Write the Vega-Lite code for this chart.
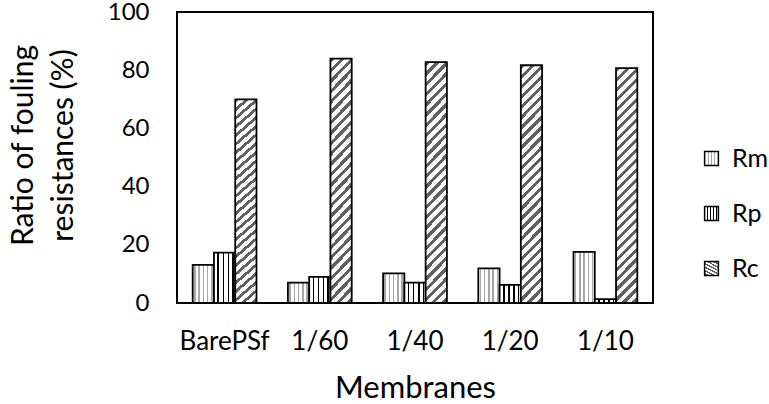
{
  "$schema": "https://vega.github.io/schema/vega-lite/v6.json",
  "width": 476,
  "height": 291,
  "autosize": {"type": "none"},
  "padding": {"left": 177, "top": 12, "right": 116, "bottom": 101},
  "background": "white",
  "config": {
    "font": "Lato",
    "view": {"stroke": "black", "strokeWidth": 2}
  },
  "data": {
    "values": [
      {"membrane": "BarePSf", "type": "Rm", "value": 13.1},
      {"membrane": "BarePSf", "type": "Rp", "value": 17.3},
      {"membrane": "BarePSf", "type": "Rc", "value": 70.0},
      {"membrane": "1/60", "type": "Rm", "value": 7.0},
      {"membrane": "1/60", "type": "Rp", "value": 9.0},
      {"membrane": "1/60", "type": "Rc", "value": 84.0},
      {"membrane": "1/40", "type": "Rm", "value": 10.2},
      {"membrane": "1/40", "type": "Rp", "value": 7.0},
      {"membrane": "1/40", "type": "Rc", "value": 82.8},
      {"membrane": "1/20", "type": "Rm", "value": 11.9},
      {"membrane": "1/20", "type": "Rp", "value": 6.2},
      {"membrane": "1/20", "type": "Rc", "value": 81.7},
      {"membrane": "1/10", "type": "Rm", "value": 17.6},
      {"membrane": "1/10", "type": "Rp", "value": 1.3},
      {"membrane": "1/10", "type": "Rc", "value": 80.7}
    ]
  },
  "mark": {"type": "bar", "stroke": "black", "strokeWidth": 1.8},
  "encoding": {
    "x": {
      "field": "membrane",
      "type": "nominal",
      "sort": ["BarePSf", "1/60", "1/40", "1/20", "1/10"],
      "scale": {"paddingInner": 0.33, "paddingOuter": 0.165},
      "axis": {
        "title": "Membranes",
        "labelAngle": 0,
        "ticks": false,
        "domain": false,
        "labelFontSize": 26,
        "labelColor": "black",
        "labelPadding": 25,
        "titleFontSize": 31,
        "titleFontWeight": "normal",
        "titleColor": "black",
        "titlePadding": 19
      }
    },
    "xOffset": {
      "field": "type",
      "sort": ["Rm", "Rp", "Rc"],
      "scale": {"paddingInner": 0, "paddingOuter": 0}
    },
    "y": {
      "field": "value",
      "type": "quantitative",
      "scale": {"domain": [0, 100]},
      "axis": {
        "values": [0, 20, 40, 60, 80, 100],
        "grid": false,
        "ticks": false,
        "domain": false,
        "labelFontSize": 24,
        "labelColor": "black",
        "labelPadding": 28,
        "title": ["Ratio of fouling", "resistances (%)"],
        "titleFontSize": 30,
        "titleFontWeight": "normal",
        "titleColor": "black",
        "titleLineHeight": 40,
        "titlePadding": 29,
        "titleY": 133
      }
    },
    "fill": {
      "field": "type",
      "type": "nominal",
      "scale": {
        "domain": ["Rm", "Rp", "Rc"],
        "range": [
          {"expr": "{gradient:'linear',x1:0,y1:0,x2:1,y2:0,stops:[{offset:0,color:'#fff'},{offset:0.065,color:'#fff'},{offset:0.065,color:'#a8a8a8'},{offset:0.135,color:'#a8a8a8'},{offset:0.135,color:'#fff'},{offset:0.265,color:'#fff'},{offset:0.265,color:'#a8a8a8'},{offset:0.335,color:'#a8a8a8'},{offset:0.335,color:'#fff'},{offset:0.465,color:'#fff'},{offset:0.465,color:'#a8a8a8'},{offset:0.535,color:'#a8a8a8'},{offset:0.535,color:'#fff'},{offset:0.665,color:'#fff'},{offset:0.665,color:'#a8a8a8'},{offset:0.735,color:'#a8a8a8'},{offset:0.735,color:'#fff'},{offset:0.865,color:'#fff'},{offset:0.865,color:'#a8a8a8'},{offset:0.935,color:'#a8a8a8'},{offset:0.935,color:'#fff'},{offset:1,color:'#fff'}]}"},
          {"expr": "{gradient:'linear',x1:0,y1:0,x2:1,y2:0,stops:[{offset:0,color:'#fff'},{offset:0.165,color:'#fff'},{offset:0.165,color:'#000'},{offset:0.235,color:'#000'},{offset:0.235,color:'#fff'},{offset:0.405,color:'#fff'},{offset:0.405,color:'#000'},{offset:0.475,color:'#000'},{offset:0.475,color:'#fff'},{offset:0.645,color:'#fff'},{offset:0.645,color:'#000'},{offset:0.715,color:'#000'},{offset:0.715,color:'#fff'},{offset:0.855,color:'#fff'},{offset:0.855,color:'#000'},{offset:0.925,color:'#000'},{offset:0.925,color:'#fff'},{offset:1,color:'#fff'}]}"},
          {"expr": "{gradient:'linear',x1:0,y1:0,x2:0.098,y2:1.082,stops:[{offset:0,color:'#606060'},{offset:0.017,color:'#606060'},{offset:0.017,color:'#fff'},{offset:0.039,color:'#fff'},{offset:0.039,color:'#606060'},{offset:0.056,color:'#606060'},{offset:0.056,color:'#fff'},{offset:0.078,color:'#fff'},{offset:0.078,color:'#606060'},{offset:0.095,color:'#606060'},{offset:0.095,color:'#fff'},{offset:0.117,color:'#fff'},{offset:0.117,color:'#606060'},{offset:0.134,color:'#606060'},{offset:0.134,color:'#fff'},{offset:0.156,color:'#fff'},{offset:0.156,color:'#606060'},{offset:0.173,color:'#606060'},{offset:0.173,color:'#fff'},{offset:0.195,color:'#fff'},{offset:0.195,color:'#606060'},{offset:0.212,color:'#606060'},{offset:0.212,color:'#fff'},{offset:0.234,color:'#fff'},{offset:0.234,color:'#606060'},{offset:0.251,color:'#606060'},{offset:0.251,color:'#fff'},{offset:0.273,color:'#fff'},{offset:0.273,color:'#606060'},{offset:0.29,color:'#606060'},{offset:0.29,color:'#fff'},{offset:0.312,color:'#fff'},{offset:0.312,color:'#606060'},{offset:0.329,color:'#606060'},{offset:0.329,color:'#fff'},{offset:0.351,color:'#fff'},{offset:0.351,color:'#606060'},{offset:0.368,color:'#606060'},{offset:0.368,color:'#fff'},{offset:0.39,color:'#fff'},{offset:0.39,color:'#606060'},{offset:0.407,color:'#606060'},{offset:0.407,color:'#fff'},{offset:0.429,color:'#fff'},{offset:0.429,color:'#606060'},{offset:0.446,color:'#606060'},{offset:0.446,color:'#fff'},{offset:0.468,color:'#fff'},{offset:0.468,color:'#606060'},{offset:0.485,color:'#606060'},{offset:0.485,color:'#fff'},{offset:0.507,color:'#fff'},{offset:0.507,color:'#606060'},{offset:0.524,color:'#606060'},{offset:0.524,color:'#fff'},{offset:0.546,color:'#fff'},{offset:0.546,color:'#606060'},{offset:0.563,color:'#606060'},{offset:0.563,color:'#fff'},{offset:0.585,color:'#fff'},{offset:0.585,color:'#606060'},{offset:0.602,color:'#606060'},{offset:0.602,color:'#fff'},{offset:0.624,color:'#fff'},{offset:0.624,color:'#606060'},{offset:0.641,color:'#606060'},{offset:0.641,color:'#fff'},{offset:0.663,color:'#fff'},{offset:0.663,color:'#606060'},{offset:0.68,color:'#606060'},{offset:0.68,color:'#fff'},{offset:0.702,color:'#fff'},{offset:0.702,color:'#606060'},{offset:0.719,color:'#606060'},{offset:0.719,color:'#fff'},{offset:0.741,color:'#fff'},{offset:0.741,color:'#606060'},{offset:0.758,color:'#606060'},{offset:0.758,color:'#fff'},{offset:0.78,color:'#fff'},{offset:0.78,color:'#606060'},{offset:0.797,color:'#606060'},{offset:0.797,color:'#fff'},{offset:0.819,color:'#fff'},{offset:0.819,color:'#606060'},{offset:0.836,color:'#606060'},{offset:0.836,color:'#fff'},{offset:0.858,color:'#fff'},{offset:0.858,color:'#606060'},{offset:0.875,color:'#606060'},{offset:0.875,color:'#fff'},{offset:0.897,color:'#fff'},{offset:0.897,color:'#606060'},{offset:0.914,color:'#606060'},{offset:0.914,color:'#fff'},{offset:0.936,color:'#fff'},{offset:0.936,color:'#606060'},{offset:0.953,color:'#606060'},{offset:0.953,color:'#fff'},{offset:0.975,color:'#fff'},{offset:0.975,color:'#606060'},{offset:0.992,color:'#606060'},{offset:0.992,color:'#fff'},{offset:1,color:'#fff'}]}"}
        ]
      },
      "legend": {
        "title": null,
        "orient": "none",
        "legendX": 522,
        "legendY": 134,
        "padding": 0,
        "symbolType": "square",
        "symbolSize": 190,
        "symbolStrokeColor": "black",
        "symbolStrokeWidth": 1.5,
        "labelFontSize": 25,
        "labelColor": "black",
        "labelOffset": 8,
        "rowPadding": 29
      }
    }
  }
}
